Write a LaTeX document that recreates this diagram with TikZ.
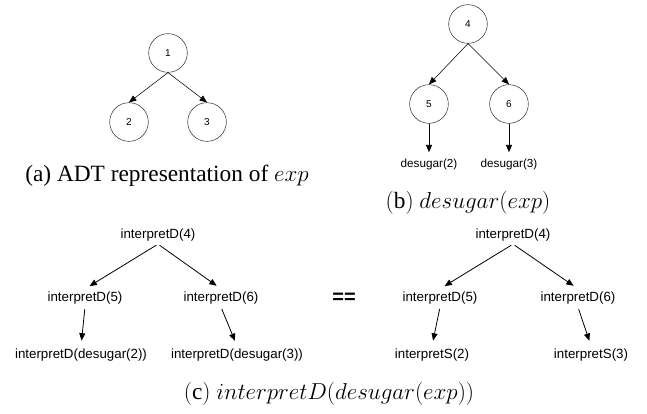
\documentclass[tikz,border=0pt]{standalone}
\usepackage{fontspec}
\setmainfont{Liberation Serif}
\setsansfont{Liberation Sans}
\usetikzlibrary{positioning, arrows.meta}

\begin{document}
\begin{tikzpicture}[x=0.75pt, y=-0.75pt,
          adt/.style={circle, draw=black!80, thin, minimum size=29pt,
                      inner sep=0pt, font=\sffamily\fontsize{7.5}{8}\selectfont},
          lbl/.style={inner sep=1pt, font=\sffamily\fontsize{8.8}{10}\selectfont},
          call/.style={inner sep=2pt, font=\sffamily\fontsize{10}{12}\selectfont},
          subcap/.style={font=\fontsize{17.5}{20}\selectfont},
          arr/.style={-{Triangle[length=5.5pt, width=4.5pt]}, semithick},
          carr/.style={arr, shorten <=1.5pt, shorten >=4pt}
        ]
        \useasboundingbox (0,0) rectangle (647,414);

        % ADT tree (a)
        \node[adt] (a1) at (168, 53) {1};
        \node[adt] (a2) at (129,122) {2};
        \node[adt] (a3) at (207,122) {3};
        \foreach \c in {a2,a3} {
          \draw[arr, thin] (a1.south)--(\c.north);
        }
        \node[subcap] (capa) at (167,176) {(a) ADT representation of $exp$};

        % desugared tree (b)
        \node[adt] (b4) at (468, 24) {4};
        \node[adt] (b5) at (429,104) {5};
        \node[adt] (b6) at (509,104) {6};
        \foreach \c in {b5,b6} {
          \draw[arr, thin] (b4.south)--(\c.north);
        }
        \node[lbl] (d2) at (429,164) {desugar(2)};
        \node[lbl] (d3) at (509,164) {desugar(3)};
        \draw[arr, shorten >=3.5pt] (b5)--(d2);
        \draw[arr, shorten >=3.5pt] (b6)--(d3);
        \node[subcap] (capb) at (468,203) {$(\mathrm{b})\ desugar(exp)$};

        % interpretD on the desugared tree (c), left
        \node[call] (l4) at (158,235) {interpretD(4)};
        \node[call] (l5) at (85,298) {interpretD(5)};
        \node[call] (l6) at (221,298) {interpretD(6)};
        \node[call] (l2) at (81,355) {interpretD(desugar(2))};
        \node[call] (l3) at (237,355) {interpretD(desugar(3))};

        % right
        \node[call] (r4) at (513,235) {interpretD(4)};
        \node[call] (r5) at (440,298) {interpretD(5)};
        \node[call] (r6) at (578,298) {interpretD(6)};
        \node[call] (r2) at (432,355) {interpretS(2)};
        \node[call] (r3) at (591,355) {interpretS(3)};

        \foreach \p/\c in {l4/l5, l4/l6, l5/l2, l6/l3, r4/r5, r4/r6, r5/r2, r6/r3} {
          \draw[carr] (\p.south)--(\c.north);
        }

        \node[font=\sffamily\bfseries\fontsize{15}{15}\selectfont] (eq) at (344,298) {==};
        \node[subcap] (capc) at (329,394) {$(\mathrm{c})\ interpretD(desugar(exp))$};
      \end{tikzpicture}
\end{document}
